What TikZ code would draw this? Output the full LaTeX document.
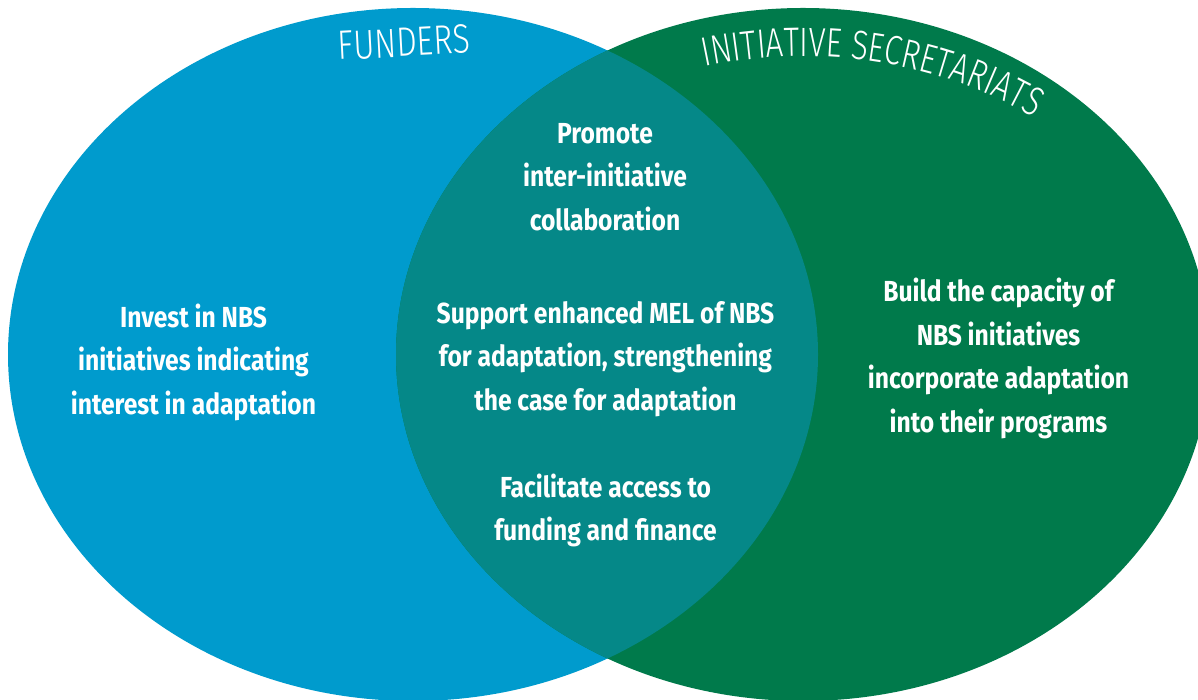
\documentclass[tikz,border=0pt]{standalone}
\usepackage{fontspec}
\setmainfont{Fira Sans}
\newfontfamily\bodyfont[FakeStretch=0.85]{Fira Sans}
\newfontfamily\titlefont[FakeStretch=0.79]{Fira Sans Light}
\newfontfamily\arcfont[FakeStretch=0.76]{Fira Sans Light}
\usetikzlibrary{decorations.text}
\definecolor{fblue}{RGB}{0,155,205}
\definecolor{fgreen}{RGB}{0,122,75}
\definecolor{fteal}{RGB}{5,136,136}
\tikzset{
  body/.style={text=white, align=center, inner sep=0pt,
    font=\bodyfont\bfseries\fontsize{29}{43.5}\selectfont},
  title/.style={text=white, inner sep=0pt,
    font=\titlefont\fontsize{41}{41}\selectfont}
}
\begin{document}
\begin{tikzpicture}[x=1pt,y=1pt]
\useasboundingbox (0,0) rectangle (1198,700);
\clip (0,0) rectangle (1198,700);
\fill[fblue] (413,345.5) ellipse[x radius=405, y radius=346.5];
\fill[fgreen] (803,345.5) ellipse[x radius=407, y radius=346.5];
\begin{scope}
  \clip (413,345.5) ellipse[x radius=405, y radius=346.5];
  \fill[fteal] (803,345.5) ellipse[x radius=407, y radius=346.5];
\end{scope}
\node[title, rotate=3] (funders) at (404,657.5) {FUNDERS};
\path[decorate, decoration={text along path, text color=white,
  text={|\arcfont\fontsize{41}{41}\selectfont|INITIATIVE SECRETARIATS},
  text align=left}]
  (803,345.5) ++(105:380 and 298) arc[start angle=105, end angle=15, x radius=380, y radius=298];
\node[body] (invest) at (193.5,338) {Invest in NBS\\initiatives indicating\\interest in adaptation};
\node[body] (promote) at (605,523) {Promote\\inter-initiative\\collaboration};
\node[body] (support) at (605.5,341) {Support enhanced MEL of NBS\\for adaptation, strengthening\\the case for adaptation};
\node[body] (facilitate) at (605.5,189.5) {Facilitate access to\\funding and finance};
\node[body] (build) at (998.5,341.5) {Build the capacity of\\NBS initiatives\\incorporate adaptation\\into their programs};
\end{tikzpicture}
\end{document}
